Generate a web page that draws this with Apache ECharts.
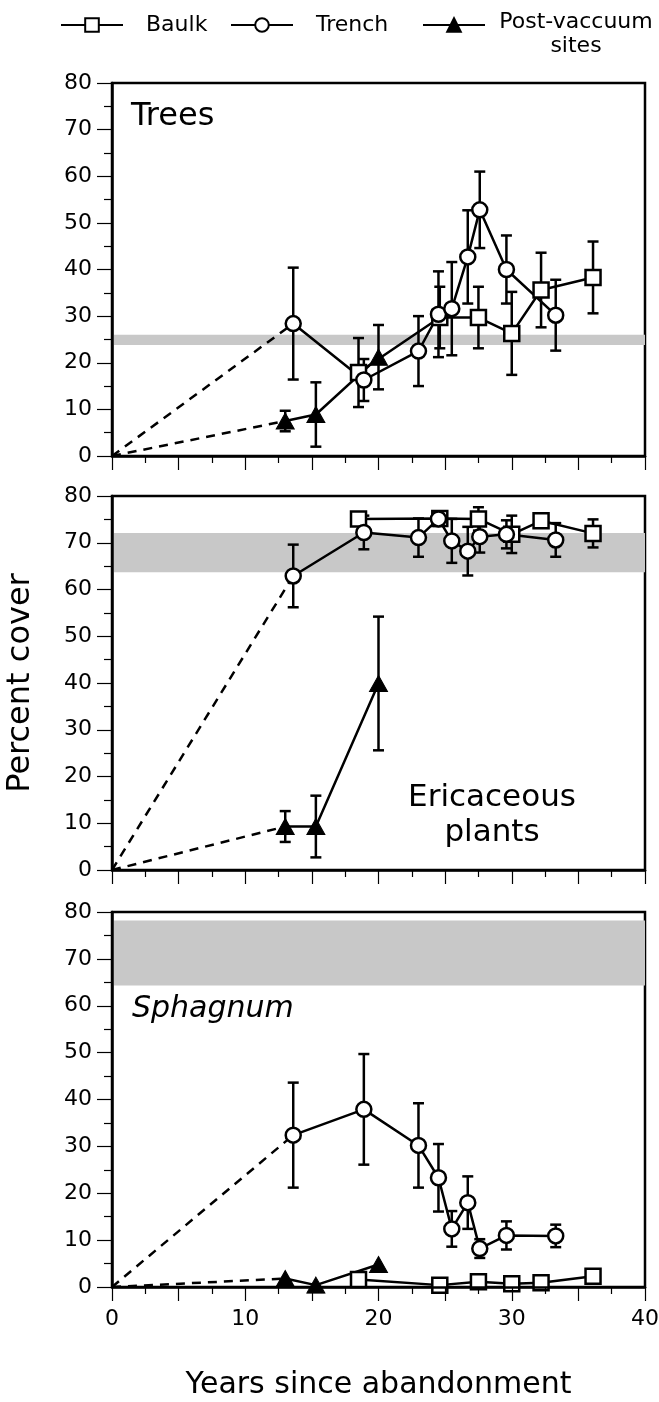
<!DOCTYPE html>
<html><head><meta charset="utf-8">
<script src="https://cdn.jsdelivr.net/npm/echarts@6/dist/echarts.min.js"></script>
<style>html,body{margin:0;padding:0;background:#fff}#c{width:659px;height:1402px}</style>
</head><body><div id="c"></div>
<script>
// Site ages (years since abandonment)
const trenchYears = [13.6, 18.9, 23.0, 24.5, 25.5, 26.7, 27.6, 29.6, 33.3];
const baulkYears  = [18.5, 24.6, 27.5, 30.0, 32.2, 36.1];
const postYears   = [13.0, 15.3, 20.0];

// Trees
const treesTrench    = [28.4, 16.3, 22.5, 30.4, 31.6, 42.7, 52.8, 40.0, 30.2];
const treesTrenchErr = [12.0, 4.5, 7.5, 9.2, 10.0, 10.0, 8.2, 7.3, 7.6];
const treesBaulk     = [17.9, 29.7, 29.7, 26.3, 35.6, 38.3];
const treesBaulkErr  = [7.4, 6.6, 6.6, 8.9, 8.0, 7.7];
const treesPost      = [7.5, 8.9, 21.2];
const treesPostErr   = [2.2, 6.9, 6.9];
const treesBand      = [23.8, 26.0];

// Ericaceous plants
const ericTrench    = [62.9, 72.2, 71.1, 75.1, 70.4, 68.2, 71.3, 71.8, 70.6];
const ericTrenchErr = [6.7, 3.6, 4.1, 1.5, 4.7, 5.2, 3.4, 3.0, 3.6];
const ericBaulk     = [75.1, 75.2, 75.1, 71.8, 74.7, 72.0];
const ericBaulkErr  = [1.0, 1.0, 2.5, 4.0, 1.0, 3.0];
const ericPost      = [9.3, 9.3, 39.9];
const ericPostErr   = [3.3, 6.6, 14.3];
const ericBand      = [63.7, 72.1];

// Sphagnum
const sphTrench    = [32.4, 37.9, 30.2, 23.3, 12.4, 18.0, 8.2, 11.0, 10.9];
const sphTrenchErr = [11.2, 11.8, 9.0, 7.2, 3.8, 5.6, 2.0, 3.0, 2.4];
const sphBaulk     = [1.6, 0.4, 1.1, 0.7, 0.9, 2.3];
const sphBaulkErr  = [0, 0, 0, 0, 0, 0];
const sphPost      = [1.8, 0.4, 4.8];
const sphPostErr   = [0, 0, 0];
const sphBand      = [64.3, 78.2];

const xTicks = [0, 10, 20, 30, 40];
const FONT = 'DejaVu Sans';

const panels = [
  {trench: treesTrench, trenchErr: treesTrenchErr, baulk: treesBaulk, baulkErr: treesBaulkErr, post: treesPost, postErr: treesPostErr, band: treesBand},
  {trench: ericTrench, trenchErr: ericTrenchErr, baulk: ericBaulk, baulkErr: ericBaulkErr, post: ericPost, postErr: ericPostErr, band: ericBand},
  {trench: sphTrench, trenchErr: sphTrenchErr, baulk: sphBaulk, baulkErr: sphBaulkErr, post: sphPost, postErr: sphPostErr, band: sphBand}
];
const gridTops = [83, 496, 912];
const gridHeights = [373, 374, 375];
const LW = 2.5;

function errRender(params, api) {
  const x = api.value(0), lo = api.value(1), hi = api.value(2);
  const p1 = api.coord([x, hi]), p2 = api.coord([x, lo]);
  const w = 5.5;
  const st = {stroke: '#000', lineWidth: LW};
  return {type: 'group', children: [
    {type: 'line', shape: {x1: p1[0], y1: p1[1], x2: p2[0], y2: p2[1]}, style: st},
    {type: 'line', shape: {x1: p1[0] - w, y1: p1[1], x2: p1[0] + w, y2: p1[1]}, style: st},
    {type: 'line', shape: {x1: p2[0] - w, y1: p2[1], x2: p2[0] + w, y2: p2[1]}, style: st}
  ]};
}
function errData(xs, vals, errs) {
  return xs.map((x, i) => [x, vals[i] - errs[i], vals[i] + errs[i]]).filter(d => d[2] > d[1]);
}
function pts(xs, vals) { return xs.map((x, i) => [x, vals[i]]); }

const grid = [], xAxis = [], yAxis = [], series = [];
panels.forEach((p, i) => {
  grid.push({left: 112, right: 14, top: gridTops[i], height: gridHeights[i], show: true,
    outerBoundsMode: 'none', containLabel: false,
    borderColor: '#000', borderWidth: 2.5, backgroundColor: 'transparent'});
  xAxis.push({gridIndex: i, type: 'value', min: 0, max: 40, interval: 5, z: 10,
    axisLine: {lineStyle: {color: '#000', width: 2.5}},
    axisTick: {length: 14, lineStyle: {color: '#000', width: 1.2}},
    minorTick: {show: true, splitNumber: 2, length: 7, lineStyle: {color: '#000', width: 1.2}},
    splitLine: {show: false}, minorSplitLine: {show: false},
    axisLabel: {show: i === 2, formatter: v => xTicks.includes(v) ? String(v) : '',
      fontSize: 22, color: '#000', margin: 21, fontFamily: FONT},
    name: i === 2 ? 'Years since abandonment' : '', nameLocation: 'middle', nameGap: 83,
    nameMoveOverlap: false,
    nameTextStyle: {fontSize: 30, color: '#000', fontFamily: FONT}
  });
  yAxis.push({gridIndex: i, type: 'value', min: 0, max: 80, interval: 10, z: 10,
    axisLine: {lineStyle: {color: '#000', width: 2.5}},
    axisTick: {length: 15, lineStyle: {color: '#000', width: 1.2}},
    minorTick: {show: true, splitNumber: 2, length: 8, lineStyle: {color: '#000', width: 1.2}},
    splitLine: {show: false}, minorSplitLine: {show: false},
    axisLabel: {fontSize: 22, color: '#000', margin: 20, fontFamily: FONT},
    name: i === 1 ? 'Percent cover' : '', nameLocation: 'middle', nameGap: 75, nameRotate: 90,
    nameMoveOverlap: false,
    nameTextStyle: {fontSize: 32, color: '#000', fontFamily: FONT}
  });
  // grey reference band
  series.push({type: 'line', xAxisIndex: i, yAxisIndex: i, data: [], silent: true, z: 1,
    markArea: {silent: true, itemStyle: {color: '#c8c8c8'},
      data: [[{xAxis: 0, yAxis: p.band[0]}, {xAxis: 40, yAxis: p.band[1]}]]}});
  // dashed lines from origin
  series.push({type: 'line', xAxisIndex: i, yAxisIndex: i, symbol: 'none', silent: true, z: 3,
    data: [[0, 0], [trenchYears[0], p.trench[0]]], lineStyle: {color: '#000', width: LW, type: [9, 7]}});
  series.push({type: 'line', xAxisIndex: i, yAxisIndex: i, symbol: 'none', silent: true, z: 3,
    data: [[0, 0], [postYears[0], p.post[0]]], lineStyle: {color: '#000', width: LW, type: [9, 7]}});
  // error bars
  [[baulkYears, p.baulk, p.baulkErr], [trenchYears, p.trench, p.trenchErr], [postYears, p.post, p.postErr]].forEach(s => {
    series.push({type: 'custom', xAxisIndex: i, yAxisIndex: i, z: 4, silent: true,
      renderItem: errRender, encode: {x: 0, y: [1, 2]}, data: errData(s[0], s[1], s[2])});
  });
  // main series
  series.push({name: 'Baulk', type: 'line', xAxisIndex: i, yAxisIndex: i, z: 5,
    data: pts(baulkYears, p.baulk), symbol: 'rect', symbolSize: 15,
    lineStyle: {color: '#000', width: LW}, itemStyle: {color: '#fff', borderColor: '#000', borderWidth: LW}});
  series.push({name: 'Trench', type: 'line', xAxisIndex: i, yAxisIndex: i, z: 5,
    data: pts(trenchYears, p.trench), symbol: 'circle', symbolSize: 15,
    lineStyle: {color: '#000', width: LW}, itemStyle: {color: '#fff', borderColor: '#000', borderWidth: LW}});
  series.push({name: 'Post-vaccuum sites', type: 'line', xAxisIndex: i, yAxisIndex: i, z: 5,
    data: pts(postYears, p.post), symbol: 'triangle', symbolSize: [18, 16],
    lineStyle: {color: '#000', width: LW}, itemStyle: {color: '#000', borderColor: '#000', borderWidth: 1}});
});

const legendBase = {orient: 'horizontal', padding: 0, itemWidth: 62, itemHeight: 17, selectedMode: false,
  textStyle: {fontSize: 22, color: '#000', fontFamily: FONT, padding: [0, 0, 6, 18]}};

const option = {
  animation: false,
  backgroundColor: '#fff',
  textStyle: {fontFamily: FONT},
  grid, xAxis, yAxis, series,
  legend: [
    Object.assign({}, legendBase, {left: 60, top: 14, data: ['Baulk']}),
    Object.assign({}, legendBase, {left: 230, top: 14, data: ['Trench']}),
    Object.assign({}, legendBase, {left: 422, top: 11, data: ['Post-vaccuum sites'],
      formatter: () => '{a|Post-vaccuum}\n{a|sites}',
      textStyle: {fontSize: 22, color: '#000', fontFamily: FONT, padding: [24, 0, 6, 6],
        rich: {a: {fontSize: 22, fontFamily: FONT, color: '#000', width: 160, align: 'center', lineHeight: 24}}}})
  ],
  graphic: [
    {type: 'text', left: 131, top: 101, style: {text: 'Trees', fontSize: 32, fontFamily: FONT, fill: '#000'}},
    {type: 'text', x: 492, y: 780, style: {text: 'Ericaceous\nplants', fontSize: 31, lineHeight: 35, fontFamily: FONT, fill: '#000', align: 'center', verticalAlign: 'top'}},
    {type: 'text', left: 132, top: 994, style: {text: 'Sphagnum', fontSize: 30, fontStyle: 'italic', fontFamily: FONT, fill: '#000'}}
  ]
};
const chart = echarts.init(document.getElementById('c'), null, {renderer: 'canvas'});
chart.setOption(option);
</script></body></html>
